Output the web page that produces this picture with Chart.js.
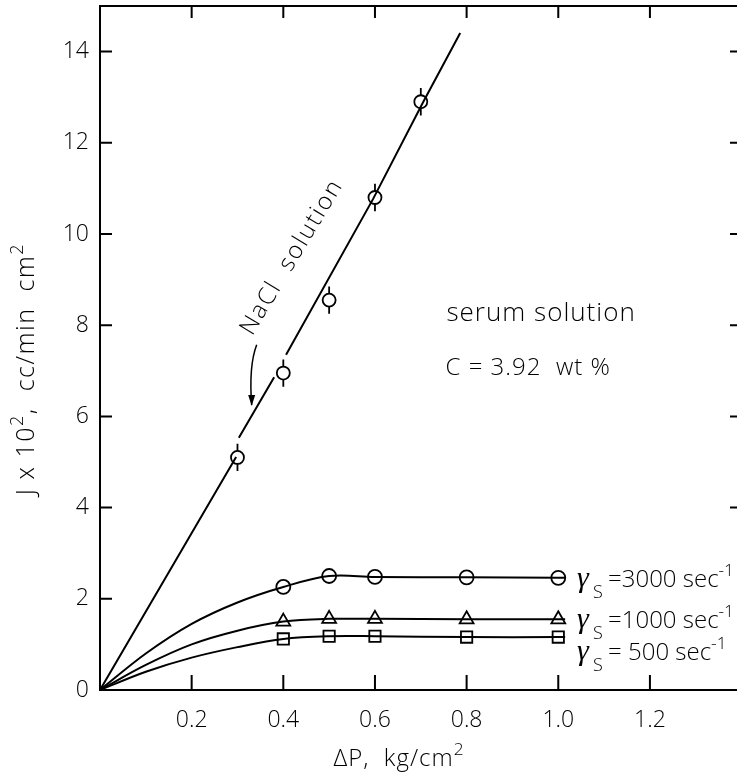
<!DOCTYPE html>
<html>
<head>
<meta charset="utf-8">
<script src="https://cdn.jsdelivr.net/npm/chart.js@4.4.1/dist/chart.umd.min.js"></script>
<style>
    html, body { margin: 0; padding: 0; background: #fff; }
    #wrap { width: 737px; height: 781px; }
</style>
</head>
<body>
<div id="wrap"><canvas id="flux_chart" width="737" height="781"></canvas></div>
<script>
// axis ticks
const xTicks = [0.2, 0.4, 0.6, 0.8, 1.0, 1.2];
const yTicks = [0, 2, 4, 6, 8, 10, 12, 14];
const rightTicks = [4, 6, 8, 10, 12, 14];

// NaCl solution: measured points with error bars
const naclX = [0.3, 0.4, 0.5, 0.6, 0.7];
const naclY = [5.1, 6.95, 8.55, 10.8, 12.9];
const naclErr = [0.3, 0.3, 0.3, 0.3, 0.3];
// the drawn NaCl line (null = break in the line)
const naclLineX = [0, 0.297, 0.3, 0.303, 0.38, 0.39, 0.406, 0.596, 0.705, 0.786];
const naclLineY = [0, 5.11, null, 5.53, 6.86, null, 7.35, 10.77, 12.89, 14.41];

// serum solution, C = 3.92 wt %
const serumX = [0.4, 0.5, 0.6, 0.8, 1.0];
const serum3000 = [2.26, 2.5, 2.48, 2.47, 2.46];
const serum1000 = [1.5, 1.56, 1.56, 1.55, 1.55];
const serum500 = [1.12, 1.18, 1.18, 1.16, 1.16];
// hand drawn curves from the origin up to the first point
const curveX = [0, 0.1, 0.2, 0.3];
const curve3000 = [0, 0.8, 1.45, 1.92];
const curve1000 = [0, 0.55, 1.0, 1.3];
const curve500 = [0, 0.4, 0.71, 0.94];
const tailX = 1.015;

const FONT = "'Open Sans', 'DejaVu Sans', sans-serif";

function pts(xs, ys) {
    return xs.map((v, i) => ({x: v, y: ys[i]}));
}

function curve(ys, marks) {
    var d = pts(curveX, ys).concat(pts(serumX, marks));
    d.push({x: tailX, y: marks[marks.length - 1]});
    return d;
}

// draw text made of pieces: [text, 0 normal / 1 superscript / -1 subscript]
function richWidth(ctx, parts, size) {
    var w = 0;
    parts.forEach(function(p) {
        ctx.font = '300 ' + (p[1] ? size * 0.72 : size) + 'px ' + FONT;
        w += ctx.measureText(p[0]).width;
    });
    return w;
}

function drawRich(ctx, parts, x, y, size, align) {
    var cx = x;
    if (align === 'center') cx = x - richWidth(ctx, parts, size) / 2;
    ctx.textAlign = 'left';
    ctx.textBaseline = 'alphabetic';
    parts.forEach(function(p) {
        var s = p[1] ? size * 0.72 : size;
        ctx.font = '300 ' + s + 'px ' + FONT;
        var dy = p[1] === 1 ? -size * 0.45 : (p[1] === -1 ? size * 0.42 : 0);
        ctx.fillText(p[0], cx, y + dy);
        cx += ctx.measureText(p[0]).width;
    });
}

const decorPlugin = {
    id: 'decor',
    beforeDatasetsDraw(chart) {
        const ctx = chart.ctx, a = chart.chartArea, x = chart.scales.x, y = chart.scales.y;
        ctx.save();
        ctx.strokeStyle = '#000';
        ctx.lineWidth = 2;
        // top frame line
        ctx.beginPath();
        ctx.moveTo(a.left, a.top);
        ctx.lineTo(a.right, a.top);
        ctx.stroke();
        // inward ticks
        ctx.beginPath();
        xTicks.forEach(function(v) {
            var px = x.getPixelForValue(v);
            ctx.moveTo(px, a.bottom); ctx.lineTo(px, a.bottom - 15);
            ctx.moveTo(px, a.top); ctx.lineTo(px, a.top + 12);
        });
        yTicks.forEach(function(v) {
            if (!v) return;
            var py = y.getPixelForValue(v);
            ctx.moveTo(a.left, py); ctx.lineTo(a.left + 12, py);
        });
        rightTicks.forEach(function(v) {
            var py = y.getPixelForValue(v);
            ctx.moveTo(a.right, py); ctx.lineTo(a.right - 7, py);
        });
        ctx.stroke();
        // error bars on NaCl points
        ctx.lineWidth = 1.8;
        ctx.beginPath();
        naclX.forEach(function(v, i) {
            var px = x.getPixelForValue(v);
            ctx.moveTo(px, y.getPixelForValue(naclY[i] - naclErr[i]));
            ctx.lineTo(px, y.getPixelForValue(naclY[i] + naclErr[i]));
        });
        ctx.stroke();
        ctx.restore();
    },
    afterDraw(chart) {
        const ctx = chart.ctx, x = chart.scales.x, y = chart.scales.y;
        ctx.save();
        ctx.fillStyle = '#000';
        ctx.strokeStyle = '#000';

        // NaCl label along the line
        ctx.save();
        ctx.translate(x.getPixelForValue(0.332), y.getPixelForValue(7.75));
        ctx.rotate(-59 * Math.PI / 180);
        ctx.font = '300 24px ' + FONT;
        ctx.letterSpacing = '2px';
        ctx.textAlign = 'left';
        ctx.textBaseline = 'alphabetic';
        ctx.fillText('NaCl  solution', 0, 0);
        ctx.restore();

        // arrow to the line
        var ax = x.getPixelForValue(0.331), ay = y.getPixelForValue(7.55);
        var tx = x.getPixelForValue(0.331), ty = y.getPixelForValue(6.25);
        ctx.lineWidth = 1.5;
        ctx.beginPath();
        ctx.moveTo(ax + 5, ay - 1);
        ctx.quadraticCurveTo(ax - 3, ay + 20, tx, ty);
        ctx.stroke();
        ctx.beginPath();
        ctx.moveTo(tx, ty + 1);
        ctx.lineTo(tx - 3.5, ty - 10);
        ctx.lineTo(tx + 3.5, ty - 10);
        ctx.closePath();
        ctx.fill();

        ctx.letterSpacing = '1px';
        drawRich(ctx, [['serum solution', 0]], x.getPixelForValue(0.756), y.getPixelForValue(8.1), 26);
        drawRich(ctx, [['C = 3.92  wt %', 0]], x.getPixelForValue(0.754), y.getPixelForValue(6.9), 24);
        ctx.letterSpacing = '0px';

        // shear rate labels
        var lx = x.getPixelForValue(1.041);
        [['3000', 2.26], ['1000', 1.36], [' 500', 0.66]].forEach(function(r) {
            var by = y.getPixelForValue(r[1]);
            ctx.font = "italic 30px 'Liberation Serif', serif";
            ctx.textAlign = 'left';
            ctx.fillText('\u03b3', lx, by);
            ctx.font = '300 18px ' + FONT;
            ctx.fillText('S', lx + 16, by + 11);
            drawRich(ctx, [['=' + r[0] + ' sec', 0], ['-1', 1]], lx + 31, by, 24);
        });

        // axis titles
        ctx.save();
        ctx.translate(34, 369);
        ctx.rotate(-Math.PI / 2);
        ctx.letterSpacing = '1.5px';
        drawRich(ctx, [['J x 10', 0], ['2', 1], [',  cc/min  cm', 0], ['2', 1]], 0, 0, 25, 'center');
        ctx.restore();
        ctx.letterSpacing = '1px';
        drawRich(ctx, [['\u0394P,  kg/cm', 0], ['2', 1]], 399, 766, 24, 'center');
        ctx.restore();
    }
};

var ctx = document.getElementById('flux_chart').getContext('2d');

var lineStyle = {showLine: true, borderColor: '#000', borderWidth: 2, pointRadius: 0, fill: false};
var markStyle = {showLine: false, borderColor: '#000', backgroundColor: '#fff', borderWidth: 1.8};

var data = {
    datasets: [
        Object.assign({label: 'NaCl line', data: pts(naclLineX, naclLineY), spanGaps: false}, lineStyle),
        Object.assign({label: '3000 curve', data: curve(curve3000, serum3000), tension: 0.35}, lineStyle),
        Object.assign({label: '1000 curve', data: curve(curve1000, serum1000), tension: 0.35}, lineStyle),
        Object.assign({label: '500 curve', data: curve(curve500, serum500), tension: 0.35}, lineStyle),
        Object.assign({label: 'NaCl solution', data: pts(naclX, naclY), pointStyle: 'circle', pointRadius: 6.5}, markStyle),
        Object.assign({label: '3000 sec-1', data: pts(serumX, serum3000), pointStyle: 'circle', pointRadius: 7}, markStyle),
        Object.assign({label: '1000 sec-1', data: pts(serumX, serum1000), pointStyle: 'triangle', pointRadius: 8}, markStyle),
        Object.assign({label: '500 sec-1', data: pts(serumX, serum500), pointStyle: 'rect', pointRadius: 8}, markStyle)
    ]
};

var tickFont = {family: FONT, size: 23, weight: 300};

var options = {
    responsive: false,
    animation: false,
    layout: {autoPadding: false, padding: {top: 6, right: 0, left: 0, bottom: 0}},
    plugins: {legend: {display: false}, tooltip: {enabled: false}},
    scales: {
        x: {
            type: 'linear', min: 0, max: 1.39,
            grid: {display: false},
            border: {color: '#000', width: 2},
            afterBuildTicks: function(s) { s.ticks = xTicks.map(v => ({value: v})); },
            afterFit: function(s) { s.height = 91; s.paddingLeft = 0; s.paddingRight = 0; },
            ticks: {padding: 9, color: '#000', font: tickFont, maxRotation: 0,
                callback: v => v.toFixed(1)}
        },
        y: {
            type: 'linear', min: 0, max: 15,
            grid: {display: false},
            border: {color: '#000', width: 2},
            afterBuildTicks: function(s) { s.ticks = yTicks.map(v => ({value: v})); },
            afterFit: function(s) { s.width = 100; s.paddingTop = 0; s.paddingBottom = 0; },
            ticks: {padding: 3, color: '#000', font: tickFont, callback: v => String(v)}
        }
    }
};

var fluxChart = new Chart(ctx, {
    type: 'scatter',
    data: data,
    options: options,
    plugins: [decorPlugin]
});
</script>
</body>
</html>
